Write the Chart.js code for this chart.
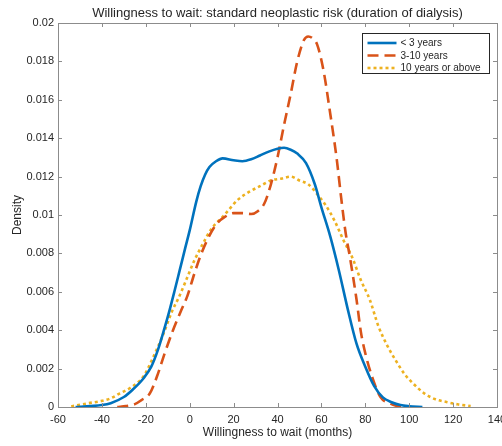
<!DOCTYPE html>
<html>
<head>
<meta charset="utf-8">
<script src="https://cdn.jsdelivr.net/npm/chart.js@4"></script>
<style>
  html, body { margin: 0; padding: 0; background: #fff; }
  #wrap { width: 502px; height: 446px; }
</style>
</head>
<body>
<div id="wrap"><canvas id="kde"></canvas></div>
<script>
const chartTitle = 'Willingness to wait: standard neoplastic risk (duration of dialysis)';
const seriesNames = ['< 3 years', '3-10 years', '10 years or above'];

// < 3 years
const lt3X = [-52, -45, -40, -36, -30, -26, -21, -17.5, -14.4, -12, -9.5, -7, -4.6, -2, 0, 3, 5, 7, 9, 12, 15, 20, 24, 28, 32, 36, 40, 43, 46, 49, 53, 57, 60, 64, 68, 72, 76, 80, 84, 88, 92, 96, 100, 106];
const lt3Y = [0, 0.00005, 0.0001, 0.0002, 0.00052, 0.0009, 0.0015, 0.0021, 0.003, 0.0039, 0.0049, 0.006, 0.0071, 0.0083, 0.0092, 0.0107, 0.0115, 0.0121, 0.0125, 0.0128, 0.01295, 0.01285, 0.0128, 0.0129, 0.0131, 0.0133, 0.01345, 0.0135, 0.0134, 0.0132, 0.0127, 0.0116, 0.0104, 0.0089, 0.0071, 0.0051, 0.0033, 0.0021, 0.0011, 0.0005, 0.00025, 0.0001, 0.00004, 0];

// 3-10 years
const midX = [-33, -29, -25, -22, -18.2, -14.4, -11.4, -7.6, -4, -1, 2, 5, 8, 12, 16, 20, 24, 28, 31, 34, 37, 40, 43, 46, 49, 52, 54, 56, 58, 61, 64, 67, 69, 71, 73, 76, 78, 80, 83, 87, 91, 94, 98];
const midY = [0, 0.00005, 0.00015, 0.00036, 0.0007, 0.00175, 0.0028, 0.004, 0.005, 0.0058, 0.0069, 0.0079, 0.0087, 0.0095, 0.0099, 0.0101, 0.0101, 0.01005, 0.0102, 0.0106, 0.0116, 0.013, 0.0147, 0.0163, 0.018, 0.0191, 0.0193, 0.0192, 0.0189, 0.0175, 0.0153, 0.0129, 0.0109, 0.0091, 0.0078, 0.0056, 0.0039, 0.0028, 0.0016, 0.0005, 0.0002, 0.00007, 0];

// 10 years or above
const gt10X = [-54, -46, -40, -36, -32, -27, -21, -17, -12, -8, -5, -2, 2, 6, 10, 15, 18, 22, 27, 32, 37, 42, 46, 50, 54, 58, 62, 66, 70, 74, 78, 82, 86, 90, 94, 98, 102, 107, 112, 117, 122, 128];
const gt10Y = [0.00003, 0.0002, 0.00032, 0.00045, 0.0007, 0.001, 0.0016, 0.0025, 0.0038, 0.005, 0.0057, 0.0065, 0.0076, 0.0085, 0.0093, 0.0099, 0.0103, 0.0108, 0.0112, 0.0115, 0.0118, 0.0119, 0.012, 0.0118, 0.0116, 0.0111, 0.0105, 0.0097, 0.0087, 0.0078, 0.0066, 0.0056, 0.0042, 0.0032, 0.0024, 0.0017, 0.0012, 0.0007, 0.0004, 0.00026, 0.00014, 0.00005];

const xTicks = [-60, -40, -20, 0, 20, 40, 60, 80, 100, 120, 140];
const yTicks = [0, 0.002, 0.004, 0.006, 0.008, 0.01, 0.012, 0.014, 0.016, 0.018, 0.02];
const yTickLabels = ['0', '0.002', '0.004', '0.006', '0.008', '0.01', '0.012', '0.014', '0.016', '0.018', '0.02'];

const axisColor = '#262626';
const boxColor = '#8c8c8c';
const fontFamily = '"Liberation Sans", Arial, sans-serif';

function toPoints(xs, ys) {
    return xs.map(function (x, i) { return { x: x, y: ys[i] }; });
}

function lineSet(label, xs, ys, color, dash) {
    return {
        label: label,
        data: toPoints(xs, ys),
        borderColor: color,
        backgroundColor: color,
        borderWidth: 2.6,
        borderDash: dash,
        borderCapStyle: 'butt',
        pointRadius: 0,
        fill: false,
        cubicInterpolationMode: 'monotone'
    };
}

// box around the axes, MATLAB-style ticks pointing inward, title over the axes
const axesBox = {
    id: 'axesBox',
    afterDraw(chart) {
        const ctx = chart.ctx;
        const a = chart.chartArea;
        const xs = chart.scales.x;
        const ys = chart.scales.y;
        ctx.save();
        ctx.strokeStyle = boxColor;
        ctx.lineWidth = 1;
        ctx.strokeRect(Math.round(a.left) + 0.5, Math.round(a.top) + 0.5, Math.round(a.right - a.left), Math.round(a.bottom - a.top));
        ctx.beginPath();
        xTicks.forEach(function (v) {
            const px = Math.round(xs.getPixelForValue(v)) + 0.5;
            ctx.moveTo(px, a.bottom); ctx.lineTo(px, a.bottom - 4);
            ctx.moveTo(px, a.top); ctx.lineTo(px, a.top + 4);
        });
        yTicks.forEach(function (v) {
            const py = Math.round(ys.getPixelForValue(v)) + 0.5;
            ctx.moveTo(a.left, py); ctx.lineTo(a.left + 4, py);
            ctx.moveTo(a.right, py); ctx.lineTo(a.right - 4, py);
        });
        ctx.stroke();

        ctx.fillStyle = axisColor;
        ctx.font = '13px ' + fontFamily;
        ctx.textAlign = 'center';
        ctx.textBaseline = 'middle';
        ctx.fillText(chartTitle, (a.left + a.right) / 2, 13);
        ctx.restore();
    }
};

// legend box in the top right corner of the axes
const boxLegend = {
    id: 'boxLegend',
    afterDraw(chart) {
        const ctx = chart.ctx;
        const a = chart.chartArea;
        const right = a.right - 7.5;
        const left = right - 127;
        const top = a.top + 10.5;
        ctx.save();
        ctx.fillStyle = '#fff';
        ctx.fillRect(left, top, right - left, 40);
        ctx.strokeStyle = '#262626';
        ctx.lineWidth = 1;
        ctx.strokeRect(left, top, right - left, 40);
        ctx.font = '10px ' + fontFamily;
        ctx.textBaseline = 'middle';
        chart.data.datasets.forEach(function (ds, i) {
            const y = top + 9.5 + i * 12.5;
            ctx.beginPath();
            ctx.strokeStyle = ds.borderColor;
            ctx.lineWidth = ds.borderWidth;
            ctx.setLineDash(ds.borderDash || []);
            ctx.moveTo(left + 5, y);
            ctx.lineTo(left + 34, y);
            ctx.stroke();
            ctx.setLineDash([]);
            ctx.fillStyle = axisColor;
            ctx.fillText(ds.label, left + 38, y + 0.5);
        });
        ctx.restore();
    }
};

new Chart(document.getElementById('kde'), {
    type: 'line',
    data: {
        datasets: [
            lineSet(seriesNames[0], lt3X, lt3Y, '#0072BD', []),
            lineSet(seriesNames[1], midX, midY, '#D95319', [11, 6]),
            lineSet(seriesNames[2], gt10X, gt10Y, '#EDB120', [3, 3])
        ]
    },
    options: {
        responsive: true,
        maintainAspectRatio: false,
        animation: false,
        layout: { padding: { left: 0, right: 5, top: 23, bottom: 0 } },
        plugins: {
            legend: { display: false },
            tooltip: { enabled: false },
            title: { display: false }
        },
        scales: {
            x: {
                type: 'linear',
                min: -60,
                max: 140,
                afterBuildTicks: function (s) { s.ticks = xTicks.map(function (v) { return { value: v }; }); },
                afterFit: function (s) { s.height = 39; s.paddingRight = 0; s.paddingLeft = 0; },
                grid: { display: false, drawTicks: false },
                border: { display: false },
                ticks: {
                    color: axisColor,
                    font: { family: fontFamily, size: 11 },
                    padding: 6,
                    maxRotation: 0,
                    autoSkip: false
                },
                title: {
                    display: true,
                    text: 'Willingness to wait (months)',
                    color: axisColor,
                    font: { family: fontFamily, size: 12 },
                    padding: { top: 0, bottom: 6 }
                }
            },
            y: {
                min: 0,
                max: 0.02,
                afterBuildTicks: function (s) { s.ticks = yTicks.map(function (v) { return { value: v }; }); },
                afterFit: function (s) { s.width = 58; s.paddingTop = 0; s.paddingBottom = 0; },
                grid: { display: false, drawTicks: false },
                border: { display: false },
                ticks: {
                    color: axisColor,
                    font: { family: fontFamily, size: 11 },
                    padding: 4,
                    autoSkip: false,
                    callback: function (v, i) { return yTickLabels[i]; }
                },
                title: {
                    display: true,
                    text: 'Density',
                    color: axisColor,
                    font: { family: fontFamily, size: 12 },
                    padding: { top: 10, bottom: 0 }
                }
            }
        }
    },
    plugins: [axesBox, boxLegend]
});
</script>
</body>
</html>
